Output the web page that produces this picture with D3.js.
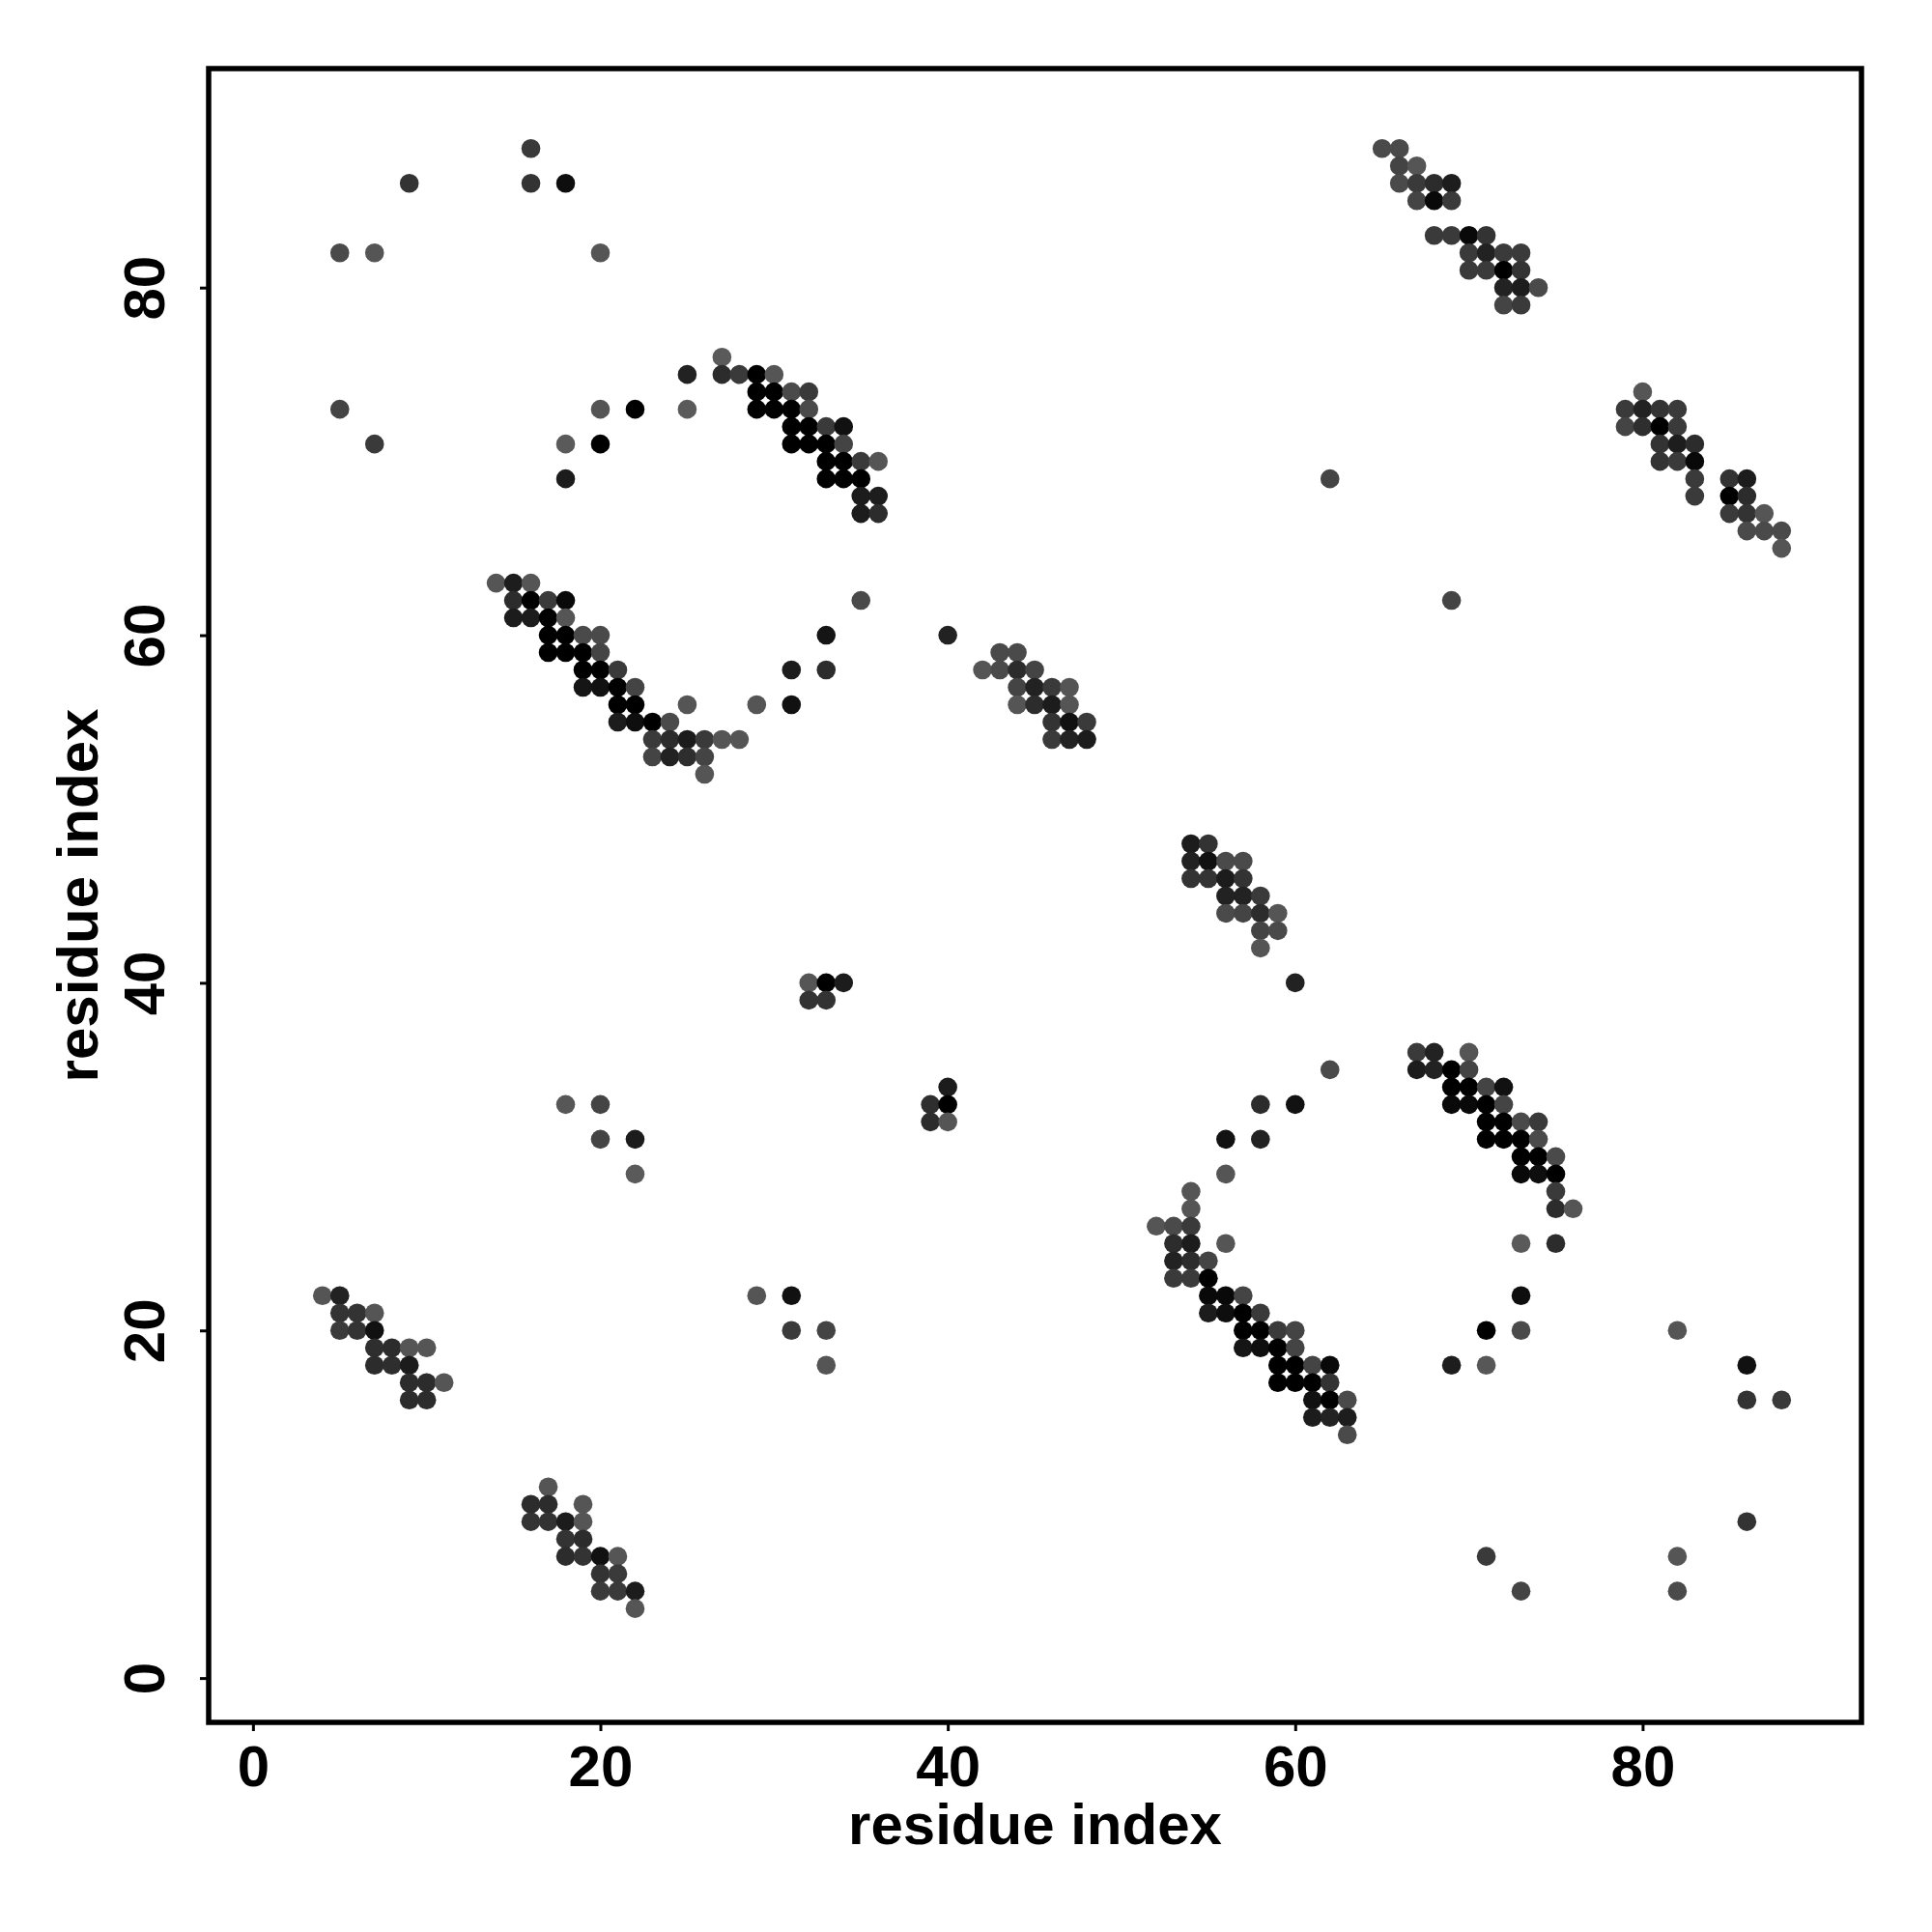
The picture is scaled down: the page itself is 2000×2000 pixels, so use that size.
<!DOCTYPE html>
<html>
<head>
<meta charset="utf-8">
<script src="https://cdn.jsdelivr.net/npm/d3@7"></script>
<style>
body { margin: 0; background: white; }
text { font-family: "Liberation Sans", Arial, sans-serif; font-weight: bold; }
</style>
</head>
<body>
<script>
// contacts: [residue i, residue j, score]
var scatterTopLeft = [[5,82,0.2],[7,82,0.08],[9,86,0.45],[16,88,0.37],[16,86,0.45],[18,86,0.85],[20,82,0.08],
	[5,73,0.26],[7,71,0.37],[18,71,0.02],[18,69,0.7],[20,73,0.08],[20,71,1],[22,73,1],[25,75,0.63],[25,73,0.02]];
var strandA = [[27,76,0.02],[27,75,0.52],[28,75,0.37],[29,75,1],[30,75,0.08],[29,74,1],[30,74,1],[31,74,0.2],[32,74,0.37],
	[29,73,1],[30,73,1],[31,73,1],[32,73,0.2],[31,72,1],[32,72,1],[33,72,0.37],[34,72,0.82],
	[31,71,1],[32,71,1],[33,71,1],[34,71,0.26],[33,70,1],[34,70,1],[35,70,0.37],[36,70,0.08],
	[33,69,1],[34,69,1],[35,69,1],[35,68,0.7],[36,68,0.68],[35,67,0.7],[36,67,0.52]];
var strandB = [[14,63,0.08],[15,63,0.68],[16,63,0.08],[15,62,0.52],[16,62,1],[17,62,0.37],[18,62,0.9],
	[15,61,0.7],[16,61,0.7],[17,61,1],[18,61,0.08],[17,60,1],[18,60,1],[19,60,0.2],[20,60,0.2],
	[17,59,1],[18,59,1],[19,59,1],[20,59,0.26],[19,58,1],[20,58,1],[21,58,0.37],
	[19,57,0.77],[20,57,0.82],[21,57,1],[22,57,0.26],[21,56,1],[22,56,1],
	[21,55,0.7],[22,55,0.85],[23,55,1],[24,55,0.2],[23,54,0.37],[24,54,0.52],[25,54,0.7],[26,54,0.37],[27,54,0.08],[28,54,0.08],
	[23,53,0.26],[24,53,0.63],[25,53,0.5],[26,53,0.26],[26,52,0.08],
	[25,56,0.08],[29,56,0.08],[31,56,0.82],[31,58,0.7],[33,58,0.52],[33,60,0.77],[35,62,0.2]];
var strandC = [[40,60,0.63],[43,59,0.2],[44,59,0.2],[42,58,0.08],[43,58,0.2],[44,58,0.52],[45,58,0.26],
	[44,57,0.26],[45,57,0.63],[46,57,0.37],[47,57,0.08],[44,56,0.08],[45,56,0.52],[46,56,0.7],[47,56,0.08],
	[46,55,0.45],[47,55,0.82],[48,55,0.37],[46,54,0.37],[47,54,0.63],[48,54,0.7]];
var strandD = [[65,88,0.2],[66,88,0.2],[66,87,0.26],[67,87,0.08],[66,86,0.2],[67,86,0.37],[68,86,0.52],[69,86,0.68],
	[67,85,0.26],[68,85,0.9],[69,85,0.37],[68,83,0.37],[69,83,0.37],[70,83,0.9],[71,83,0.45],
	[70,82,0.37],[71,82,0.63],[72,82,0.37],[73,82,0.37],[70,81,0.37],[71,81,0.37],[72,81,1],[73,81,0.45],
	[72,80,0.63],[73,80,0.68],[74,80,0.2],[72,79,0.26],[73,79,0.37]];
var strandE = [[62,69,0.26],[69,62,0.26],[80,74,0.08],[79,73,0.37],[80,73,0.63],[81,73,0.45],[82,73,0.37],
	[79,72,0.26],[80,72,0.5],[81,72,1],[82,72,0.37],[81,71,0.45],[82,71,0.68],[83,71,0.52],
	[81,70,0.45],[82,70,0.37],[83,70,0.9],[83,69,0.37],[85,69,0.45],[86,69,0.7],
	[83,68,0.37],[85,68,1],[86,68,0.52],[85,67,0.37],[86,67,0.45],[87,67,0.08],
	[86,66,0.2],[87,66,0.2],[88,66,0.2],[88,65,0.08]];
var strandF = [[54,48,0.7],[55,48,0.45],[54,47,0.63],[55,47,0.82],[56,47,0.2],[57,47,0.2],
	[54,46,0.45],[55,46,0.45],[56,46,0.7],[57,46,0.45],[56,45,0.63],[57,45,0.63],[58,45,0.37],
	[56,44,0.2],[57,44,0.26],[58,44,0.52],[59,44,0.08],[58,43,0.26],[59,43,0.2],[58,42,0.08],[60,40,0.63]];
var scatterMiddle = [[32,40,0.08],[33,40,1],[34,40,0.7],[32,39,0.45],[33,39,0.45],
	[40,34,0.7],[39,33,0.5],[40,33,1],[39,32,0.52],[40,32,0.08]];
var strandG = [[62,35,0.2],[58,33,0.52],[60,33,0.8],[56,31,0.8],[58,31,0.63],[56,29,0.08],
	[54,28,0.08],[54,27,0.08],[52,26,0.08],[53,26,0.2],[54,26,0.37],[53,25,0.52],[54,25,0.7],[56,25,0.08],
	[53,24,0.63],[54,24,0.52],[55,24,0.26],[53,23,0.37],[54,23,0.37],[55,23,1],
	[55,22,0.9],[56,22,0.9],[57,22,0.26],[55,21,0.7],[56,21,0.85],[57,21,1],[58,21,0.37],
	[57,20,1],[58,20,1],[59,20,0.37],[60,20,0.26],[57,19,0.77],[58,19,0.85],[59,19,1],[60,19,0.26],
	[59,18,1],[60,18,1],[61,18,0.26],[62,18,0.9],[59,17,1],[60,17,1],[61,17,1],[62,17,0.45],
	[61,16,0.82],[62,16,1],[63,16,0.2],[61,15,0.7],[62,15,0.63],[63,15,0.68],[63,14,0.2]];
var strandH = [[67,36,0.37],[68,36,0.63],[70,36,0.08],[67,35,0.7],[68,35,0.63],[69,35,1],[70,35,0.26],
	[69,34,1],[70,34,1],[71,34,0.26],[72,34,0.82],[69,33,0.9],[70,33,0.9],[71,33,1],[72,33,0.26],
	[71,32,1],[72,32,1],[73,32,0.2],[74,32,0.37],[71,31,1],[72,31,1],[73,31,1],[74,31,0.2],
	[73,30,1],[74,30,1],[75,30,0.2],[73,29,0.9],[74,29,0.85],[75,29,1],[75,28,0.37],[75,27,0.52],[76,27,0.08]];
var scatterRight = [[73,25,0.02],[75,25,0.52],[73,22,0.85],[71,20,1],[73,20,0.2],[69,18,0.68],[71,18,0.05],
	[82,20,0.08],[86,18,0.82],[86,16,0.45],[88,16,0.37],[86,9,0.45],[71,7,0.37],[82,7,0.08],[73,5,0.26],[82,5,0.2]];
var scatterLeft = [[18,33,0.05],[20,33,0.26],[20,31,0.26],[22,31,0.7],[22,29,0.02],
	[29,22,0.08],[31,22,0.82],[31,20,0.37],[33,20,0.26],[33,18,0.08]];
var strandI = [[4,22,0.08],[5,22,0.63],[5,21,0.45],[6,21,0.45],[7,21,0.08],[5,20,0.37],[6,20,0.45],[7,20,0.82],
	[7,19,0.5],[8,19,0.52],[9,19,0.08],[10,19,0.08],[7,18,0.52],[8,18,0.5],[9,18,0.7],
	[9,17,0.52],[10,17,0.52],[11,17,0.08],[9,16,0.52],[10,16,0.52]];
var strandJ = [[17,11,0.08],[16,10,0.52],[17,10,0.52],[19,10,0.08],[16,9,0.45],[17,9,0.45],[18,9,0.7],[19,9,0.08],
	[18,8,0.45],[19,8,0.52],[18,7,0.52],[19,7,0.45],[20,7,0.82],[21,7,0.08],
	[20,6,0.45],[21,6,0.37],[20,5,0.37],[21,5,0.37],[22,5,0.7],[22,4,0.08]];
var tickValues = [0, 20, 40, 60, 80];

var contacts = [].concat(scatterTopLeft, strandA, strandB, strandC, strandD, strandE, strandF,
	scatterMiddle, strandG, strandH, scatterRight, scatterLeft, strandI, strandJ);

var plotLeft = 216, plotRight = 1927, plotTop = 71, plotBottom = 1783;
var svg = d3.select("body").append("svg").attr("width", 2000).attr("height", 2000);
svg.append("rect").attr("width", 2000).attr("height", 2000).attr("fill", "white");

var x = d3.scaleLinear().domain([-2.55, 92.6]).range([plotLeft, plotRight]);
var y = d3.scaleLinear().domain([-2.55, 92.6]).range([plotBottom, plotTop]);
var shade = d3.scaleLinear().domain([0, 1]).range(["#5c5c5c", "#000000"]);

svg.append("g").selectAll("circle").data(contacts).enter().append("circle")
	.attr("cx", function(d){ return x(d[0]); })
	.attr("cy", function(d){ return y(d[1]); })
	.attr("r", 9.8)
	.attr("fill", function(d){ return shade(d[2]); });

// axes
var xAxis = svg.append("g").attr("transform", "translate(0," + plotBottom + ")")
	.call(d3.axisBottom(x).tickValues(tickValues).tickSize(9).tickPadding(14));
var yAxis = svg.append("g").attr("transform", "translate(" + plotLeft + ",0)")
	.call(d3.axisLeft(y).tickValues(tickValues).tickSize(9).tickPadding(14));
[xAxis, yAxis].forEach(function(a){
	a.select(".domain").remove();
	a.selectAll("line").attr("stroke", "black").attr("stroke-width", 3);
	a.selectAll("text").attr("font-size", 60).attr("fill", "black")
		.style("font-family", "'Liberation Sans', Arial, sans-serif").style("font-weight", "bold");
});
// y tick labels turned upright like R's las=0
yAxis.selectAll("text")
	.attr("x", 0).attr("y", 0).attr("dy", null)
	.attr("text-anchor", "middle")
	.attr("transform", "translate(-46,0) rotate(-90)");

svg.append("rect").attr("x", plotLeft).attr("y", plotTop)
	.attr("width", plotRight - plotLeft).attr("height", plotBottom - plotTop)
	.attr("fill", "none").attr("stroke", "black").attr("stroke-width", 5.5);

svg.append("text").text("residue index").attr("x", (plotLeft + plotRight) / 2).attr("y", 1909)
	.attr("text-anchor", "middle").attr("font-size", 60).attr("fill", "black");
svg.append("text").text("residue index")
	.attr("transform", "translate(101," + ((plotTop + plotBottom) / 2) + ") rotate(-90)")
	.attr("text-anchor", "middle").attr("font-size", 60).attr("fill", "black");
</script>
</body>
</html>
